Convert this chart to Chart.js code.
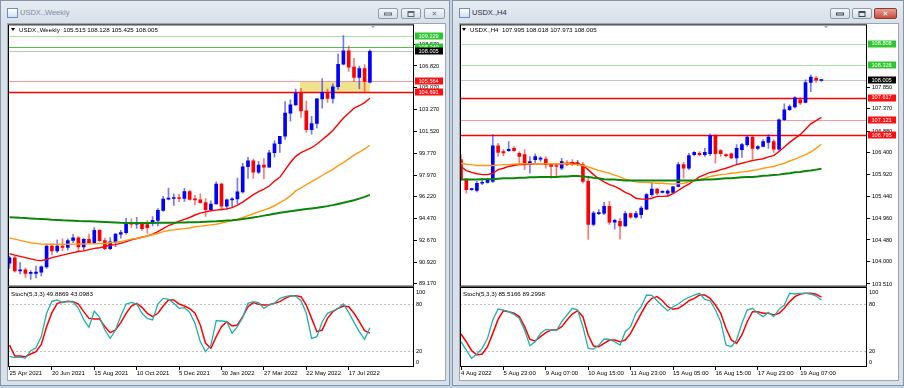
<!DOCTYPE html>
<html>
<head>
<meta charset="utf-8">
<title>USDX</title>
<script src="https://cdn.jsdelivr.net/npm/chart.js@4.4.1/dist/chart.umd.min.js"></script>
<style>
  body { margin:0; width:904px; height:388px; position:relative; overflow:hidden; background:#c3d3e4; font-family:"Liberation Sans", Arial, sans-serif; }
  .win { position:absolute; top:0; height:386px; box-sizing:border-box; border:1px solid #8796a6; background:linear-gradient(#e6ecf2, #d8e0ea 22px, #d8e0ea); }
  .client { position:absolute; top:23px; height:358px; background:#fff; box-sizing:border-box; border:1px solid #9aa6b2; }
  .title { position:absolute; top:8px; font-size:7.5px; }
  .icon { position:absolute; top:8px; width:9px; height:8px; border:1px solid #6f8fb8; background:linear-gradient(#ffffff,#cfe0f4); }
  .btn { position:absolute; top:8px; height:11px; box-sizing:border-box; border:1px solid #8e9cad; border-radius:2px; background:linear-gradient(#f3f6f9,#d7dfe8); }
  .btn i { position:absolute; left:50%; top:50%; transform:translate(-50%,-50%); box-sizing:border-box; }
  .close { background:linear-gradient(#e8a093,#c74d3f); border-color:#8a3a32; }
  canvas { position:absolute; }
  .hdr { position:absolute; font-size:6.2px; white-space:pre; color:#000; line-height:7px; }
  .tri { display:inline-block; width:0; height:0; border-left:2.5px solid transparent; border-right:2.5px solid transparent; border-top:3px solid #000; margin-right:4px; vertical-align:1px; }
</style>
</head>
<body>

<div class="win" style="left:0;width:450px"></div>
<div class="icon" style="left:7px"></div>
<div class="title" style="left:20px;color:#7d8ea3">USDX.,Weekly</div>
<div class="btn" style="left:378px;width:20px"><i style="width:8px;height:3px;border:1px solid #5a6878;top:60%"></i></div>
<div class="btn" style="left:401px;width:20px"><i style="width:7px;height:6px;border:1px solid #5a6878;border-top-width:2px"></i></div>
<div class="btn" style="left:424px;width:21px"><i style="font:bold 7px 'DejaVu Sans';color:#6a7888">✕</i></div>
<div class="client" style="left:7px;width:439px"></div>

<div class="win" style="left:452px;width:452px"></div>
<div class="icon" style="left:459px"></div>
<div class="title" style="left:472px;color:#1f2f45">USDX.,H4</div>
<div class="btn" style="left:830px;width:20px"><i style="width:8px;height:3px;border:1px solid #3c4a5a;top:60%"></i></div>
<div class="btn" style="left:852px;width:20px"><i style="width:7px;height:6px;border:1px solid #3c4a5a;border-top-width:2px"></i></div>
<div class="btn close" style="left:874px;width:23px"><i style="font:bold 7px 'DejaVu Sans';color:#fff">✕</i></div>
<div class="client" style="left:459px;width:440px"></div>

<canvas id="wMain" width="437" height="273" style="left:8px;top:19px"></canvas>
<canvas id="wStoch" width="437" height="100" style="left:8px;top:282px"></canvas>
<canvas id="hMain" width="438" height="273" style="left:460px;top:19px"></canvas>
<canvas id="hStoch" width="438" height="100" style="left:460px;top:282px"></canvas>

<div class="hdr" style="left:11px;top:26px"><span class="tri"></span>USDX.,Weekly  105.515 108.128 105.425 108.005</div>
<div class="hdr" style="left:11px;top:290px">Stoch(5,3,3) 49.8869 43.0983</div>
<div class="hdr" style="left:462px;top:26px"><span class="tri"></span>USDX.,H4  107.995 108.018 107.973 108.005</div>
<div class="hdr" style="left:463px;top:290px">Stoch(5,3,3) 85.5166 89.2998</div>

<script>
// ---------- Weekly (25 Apr 2021 .. 14 Aug 2022) ----------
const W_OPEN  = [90.85,91.28,90.22,90.32,90.02,90.03,90.13,90.55,92.23,91.85,92.23,92.12,92.69,92.90,92.17,92.78,92.52,93.50,92.68,92.03,92.58,93.20,93.33,94.10,94.00,94.12,93.98,94.12,94.32,95.12,96.04,96.09,96.16,96.09,96.64,96.02,95.97,95.75,95.18,95.64,97.26,95.47,95.98,96.05,96.62,98.66,99.13,98.23,98.79,98.62,99.79,100.52,101.13,103.00,103.67,104.63,103.19,101.66,102.16,104.15,104.68,104.19,105.14,106.96,108.05,106.73,105.90,106.60,105.515];
const W_HIGH  = [91.43,91.43,90.91,90.45,90.26,90.62,90.64,92.40,92.41,92.74,92.83,92.83,93.19,93.00,92.87,93.20,93.73,93.60,92.88,92.92,93.27,93.52,94.50,94.45,94.56,94.17,94.30,94.63,95.27,96.27,96.94,96.45,96.44,96.91,96.75,96.35,96.47,96.08,95.89,97.44,97.33,96.06,96.16,97.74,98.93,99.42,99.29,99.10,99.33,99.98,100.76,101.09,103.93,104.07,104.95,105.01,103.98,102.74,104.20,105.79,104.94,105.38,107.79,109.29,108.43,107.43,106.81,106.93,108.128];
const W_LOW   = [90.42,90.12,89.98,89.69,89.53,89.66,89.81,90.42,91.51,91.70,91.86,91.90,92.51,91.78,91.89,92.47,92.48,92.62,91.94,91.95,92.19,92.88,93.20,93.75,93.67,93.50,93.28,93.87,93.87,95.04,95.97,95.52,95.83,95.85,95.96,95.56,95.71,94.63,95.16,95.62,95.14,95.20,95.39,95.65,96.51,97.71,97.71,98.10,97.68,98.60,99.43,99.82,100.87,102.36,103.63,102.66,101.43,101.30,101.81,103.41,103.86,103.81,104.93,106.90,106.38,105.54,104.98,104.64,105.425];
const W_CLOSE = [91.28,90.22,90.32,90.02,90.03,90.13,90.55,92.23,91.85,92.23,92.12,92.69,92.90,92.17,92.78,92.52,93.50,92.68,92.03,92.58,93.20,93.33,94.04,94.00,94.12,93.64,93.72,94.32,95.12,96.04,96.09,96.16,96.09,96.64,96.02,95.97,95.75,95.18,95.64,97.26,95.47,95.98,96.05,96.62,98.66,99.13,98.23,98.79,98.62,99.79,100.52,101.13,103.00,103.67,104.63,103.19,101.66,102.16,104.15,104.68,104.19,105.14,106.96,108.05,106.73,105.90,106.60,105.56,108.005];
const W_MA_FAST = [91.63,91.5,91.4,91.3,91.2,91.1,91.06,91.15,91.3,91.4,91.5,91.6,91.7,91.8,91.85,91.95,92.05,92.1,92.2,92.3,92.35,92.45,92.6,92.75,92.85,92.95,93.05,93.2,93.4,93.65,93.9,94.05,94.25,94.4,94.55,94.75,94.9,95.0,95.1,95.15,95.2,95.25,95.35,95.55,95.8,96.1,96.4,96.65,96.85,97.1,97.5,97.8,98.4,99.0,99.5,99.8,100.0,100.2,100.5,100.85,101.2,101.6,102.1,102.6,103.0,103.4,103.6,103.85,104.2];
const W_MA_MID  = [92.9,92.8,92.7,92.6,92.5,92.45,92.4,92.38,92.38,92.38,92.38,92.38,92.39,92.4,92.4,92.41,92.42,92.43,92.44,92.5,92.55,92.6,92.7,92.8,92.85,92.95,93.05,93.15,93.25,93.4,93.5,93.55,93.6,93.65,93.7,93.8,93.85,93.9,93.95,94.0,94.1,94.2,94.3,94.4,94.55,94.7,94.85,95.0,95.15,95.3,95.5,95.75,96.0,96.3,96.7,96.95,97.2,97.45,97.7,97.95,98.2,98.45,98.75,99.0,99.3,99.6,99.85,100.1,100.4];
const W_MA_SLOW = [94.57,94.55,94.52,94.5,94.47,94.44,94.42,94.4,94.37,94.35,94.32,94.3,94.28,94.26,94.25,94.24,94.22,94.2,94.18,94.16,94.14,94.12,94.11,94.1,94.1,94.1,94.1,94.11,94.12,94.12,94.13,94.13,94.14,94.15,94.16,94.17,94.18,94.2,94.22,94.24,94.27,94.3,94.33,94.37,94.42,94.48,94.55,94.62,94.7,94.78,94.86,94.94,95.0,95.06,95.12,95.18,95.23,95.28,95.33,95.4,95.47,95.55,95.65,95.75,95.85,95.95,96.08,96.22,96.38];
const W_STOCH_K = [13.2,11.5,12.3,11.0,20.4,24.3,38.5,68.5,83.9,85.6,82.2,83.9,83.0,74.9,60.7,50.5,71.4,63.3,47.0,36.3,47.0,65.0,80.4,82.6,80.4,68.5,62.0,59.9,80.4,87.7,86.4,81.3,74.9,75.7,69.7,55.6,32.0,19.2,27.7,59.0,58.6,57.7,42.7,51.3,63.3,81.3,83.5,82.2,74.9,79.2,81.3,87.7,89.9,91.2,90.7,84.7,68.5,36.3,38.5,57.7,68.5,71.5,74.9,80.4,69.7,56.9,44.9,35.0,49.9];
const W_STOCH_D = [27.7,13.6,13.6,12.7,16.2,19.2,28.6,51.3,69.3,81.3,82.6,83.9,83.5,80.4,70.6,62.0,61.2,61.2,51.3,43.6,47.0,56.5,68.5,77.9,81.3,76.2,68.5,64.2,68.5,77.9,85.6,85.6,80.4,77.9,74.5,68.5,53.5,29.9,23.5,38.5,51.3,57.7,52.2,53.5,64.2,77.0,82.2,80.0,79.2,79.6,81.3,83.5,87.7,90.7,91.2,89.9,79.2,62.0,44.9,47.0,62.0,70.6,74.9,77.9,77.0,68.5,57.7,46.2,43.1];
const W_DATE_TICKS = [0, 8, 16, 24, 32, 40, 48, 56, 64];
const W_DATE_LABELS = ['25 Apr 2021','20 Jun 2021','15 Aug 2021','10 Oct 2021','5 Dec 2021','30 Jan 2022','27 Mar 2022','22 May 2022','17 Jul 2022'];
const W_PRICE_TICKS = [108.570, 106.820, 105.070, 103.270, 101.520, 99.770, 97.970, 96.220, 94.470, 92.670, 90.920, 89.170];
const W_LEVELS = [109.229, 108.340, 105.564, 104.691];
const W_BID = 108.005;
const W_ZONE = [54.8, 68, 104.691, 105.564];

// ---------- H4 (4 Aug 2022 .. 19 Aug 2022) ----------
const H_OPEN  = [106.25,105.82,105.59,105.57,105.73,105.75,105.77,106.556,106.43,106.45,106.50,106.39,106.36,106.14,106.25,106.26,106.26,106.14,106.12,106.06,106.17,106.19,106.16,106.14,105.77,104.82,105.06,105.07,105.22,104.87,104.89,104.79,105.06,104.98,105.04,105.16,105.48,105.60,105.53,105.51,105.53,105.66,106.14,106.06,106.36,106.39,106.36,106.38,106.78,106.45,106.36,106.38,106.29,106.47,106.58,106.75,106.50,106.54,106.63,106.65,106.48,107.13,107.35,107.41,107.57,107.51,107.95,108.05,107.995];
const H_HIGH  = [106.36,105.84,105.62,105.77,105.84,105.84,106.80,106.61,106.47,106.65,106.54,106.42,106.47,106.32,106.38,106.32,106.32,106.17,106.15,106.28,106.23,106.25,106.23,106.19,105.84,105.11,105.15,105.31,105.33,104.94,104.96,105.11,105.07,105.11,105.22,105.51,105.75,105.62,105.57,105.59,105.66,106.19,106.19,106.39,106.43,106.43,106.50,106.82,106.80,106.47,106.38,106.40,106.58,106.61,106.78,106.76,106.56,106.69,106.80,106.69,107.15,107.48,107.46,107.64,107.61,108.01,108.12,108.08,108.018];
const H_LOW   = [105.79,105.51,105.57,105.54,105.70,105.73,105.75,106.32,106.34,106.43,106.43,106.17,106.03,105.95,106.17,106.21,106.06,105.84,105.88,106.03,106.12,106.12,106.12,105.73,104.49,104.79,105.04,105.04,104.82,104.72,104.50,104.78,104.96,104.96,104.96,105.15,105.44,105.48,105.51,105.44,105.50,105.65,105.84,106.03,106.33,106.33,106.32,106.34,106.17,106.32,106.31,106.27,106.15,106.30,106.54,106.26,106.47,106.53,106.50,106.41,106.43,107.11,107.33,107.39,107.46,107.50,107.75,107.95,107.973];
const H_CLOSE = [105.82,105.59,105.60,105.73,105.75,105.82,106.556,106.41,106.40,106.48,106.45,106.32,106.14,106.21,106.32,106.27,106.14,106.10,106.10,106.21,106.14,106.14,106.16,105.77,104.82,105.07,105.07,105.22,104.87,104.91,104.79,105.06,104.98,105.06,105.18,105.48,105.60,105.51,105.55,105.56,105.65,106.14,106.06,106.34,106.41,106.36,106.41,106.78,106.38,106.38,106.34,106.29,106.50,106.58,106.75,106.50,106.54,106.65,106.75,106.48,107.13,107.35,107.42,107.61,107.50,107.95,108.07,108.00,108.005];
const H_MA_FAST = [106.10,106.01,105.97,105.94,105.92,105.92,105.95,106.03,106.06,106.10,106.12,106.14,106.14,106.15,106.16,106.16,106.16,106.16,106.16,106.16,106.17,106.17,106.17,106.12,106.03,105.92,105.83,105.76,105.70,105.66,105.60,105.53,105.48,105.40,105.38,105.38,105.40,105.44,105.44,105.45,105.50,105.57,105.65,105.71,105.79,105.87,105.92,105.97,105.99,106.03,106.06,106.10,106.14,106.17,106.20,106.23,106.25,106.27,106.31,106.34,106.43,106.53,106.63,106.72,106.80,106.92,107.04,107.11,107.18];
const H_MA_MID  = [106.17,106.15,106.14,106.12,106.12,106.12,106.12,106.13,106.14,106.14,106.15,106.16,106.16,106.16,106.16,106.16,106.16,106.16,106.16,106.16,106.16,106.15,106.14,106.12,106.09,106.05,106.01,105.98,105.95,105.91,105.87,105.82,105.79,105.76,105.75,105.75,105.74,105.73,105.73,105.72,105.71,105.72,105.73,105.76,105.79,105.81,105.84,105.88,105.90,105.92,105.93,105.95,105.96,105.98,105.99,106.01,106.03,106.06,106.08,106.10,106.14,106.17,106.22,106.26,106.31,106.36,106.42,106.50,106.59];
const H_MA_SLOW = [105.81,105.81,105.81,105.81,105.82,105.82,105.82,105.83,105.84,105.84,105.84,105.85,105.85,105.86,105.86,105.87,105.87,105.87,105.87,105.88,105.88,105.89,105.89,105.88,105.87,105.85,105.84,105.82,105.81,105.81,105.80,105.79,105.79,105.79,105.79,105.79,105.79,105.79,105.79,105.79,105.79,105.79,105.79,105.79,105.79,105.80,105.81,105.81,105.82,105.83,105.84,105.84,105.85,105.86,105.87,105.87,105.88,105.895,105.90,105.91,105.92,105.94,105.95,105.97,105.98,106.00,106.01,106.03,106.05];
const H_STOCH_K = [32.0,21.3,10.6,16.2,23.5,36.3,59.9,74.0,72.7,70.6,67.2,62.0,47.0,26.9,32.0,42.7,47.9,47.0,46.2,57.7,66.3,74.9,72.7,51.3,23.5,22.6,27.7,35.5,35.0,32.0,27.7,44.9,51.3,68.5,77.0,92.0,91.6,84.7,77.9,71.9,77.0,80.4,85.6,89.0,92.0,94.2,86.4,84.7,72.7,57.7,27.7,25.6,34.2,55.6,72.7,74.9,68.5,64.2,69.7,64.2,73.6,79.2,94.2,93.3,94.2,94.2,93.3,90.7,85.5];
const H_STOCH_D = [41.9,32.0,20.5,14.9,16.2,25.6,42.7,60.7,71.9,70.6,68.5,64.2,51.3,35.0,32.9,38.5,43.6,47.0,47.0,51.3,59.9,67.6,71.9,64.2,40.6,26.5,25.6,29.9,34.2,34.2,32.0,34.2,42.7,55.6,68.5,80.4,87.7,89.9,84.7,77.0,73.6,74.9,79.2,84.7,87.7,92.0,92.0,87.7,79.2,68.5,49.2,34.2,29.9,40.6,57.7,70.6,70.6,68.5,68.5,66.3,68.5,74.9,83.5,89.9,93.3,94.2,94.2,92.9,89.3];
const H_DATE_TICKS = [0, 8, 16, 24, 32, 40, 48, 56, 64];
const H_DATE_LABELS = ['4 Aug 2022','5 Aug 23:00','9 Aug 07:00','10 Aug 15:00','11 Aug 23:00','15 Aug 05:00','16 Aug 15:00','17 Aug 23:00','19 Aug 07:00'];
const H_PRICE_TICKS = [107.850, 107.370, 106.880, 106.400, 105.920, 105.440, 104.960, 104.480, 104.000, 103.510];
const H_LEVELS = [108.808, 108.326, 107.617, 107.121, 106.795];
const H_BID = 108.005;

const STOCH_LEVELS = [80, 20];
const STOCH_TICKS = [100, 80, 20, 0];

// ---------- styles ----------
Chart.defaults.font.family = '"Liberation Sans", Arial, sans-serif';
Chart.defaults.color = '#000';
const GREEN_LIGHT = { line:'#a6e3a6', bg:'#2fc72f' };
const GREEN = { line:'#52c052', bg:'#2fc72f' };
const RED_LIGHT = { line:'#f59a9a', bg:'#ff1010' };
const RED = { line:'#ff0000', bg:'#ff1010', w:1.4 };
const BID = { line:'#c4c4c4', bg:'#000000' };

function pts(arr) { return arr.map((v, i) => ({ x: i, y: v })); }

function overlayPlugin(cfg) {
  return {
    id: 'mtOverlay',
    beforeDatasetsDraw(chart) {
      const { ctx, chartArea: a, scales: { x, y } } = chart;
      ctx.save();
      ctx.beginPath(); ctx.rect(a.left, a.top, a.right - a.left, a.bottom - a.top); ctx.clip();
      if (cfg.zone) {
        const [i0, i1, lo, hi] = cfg.zone;
        const x0 = x.getPixelForValue(i0), x1 = x.getPixelForValue(i1);
        const y0 = y.getPixelForValue(hi), y1 = y.getPixelForValue(lo);
        ctx.fillStyle = '#efe38f';
        ctx.fillRect(x0, y0, x1 - x0, y1 - y0);
      }
      cfg.lines.forEach(l => {
        const py = Math.round(y.getPixelForValue(l.v)) + 0.5;
        ctx.strokeStyle = l.st.line; ctx.lineWidth = l.st.w || 1;
        ctx.beginPath(); ctx.moveTo(a.left, py); ctx.lineTo(a.right, py); ctx.stroke();
      });
      ctx.restore();
    },
    afterDraw(chart) {
      const { ctx, chartArea: a, scales: { y } } = chart;
      ctx.save();
      ctx.strokeStyle = '#000'; ctx.lineWidth = 1;
      ctx.strokeRect(a.left + 0.5, a.top + 0.5, a.right - a.left - 1, a.bottom - a.top - 1);
      // chart shift marker
      const mx = a.right - 41;
      ctx.fillStyle = '#a8a8a8';
      ctx.beginPath(); ctx.moveTo(mx - 2.5, a.top + 1); ctx.lineTo(mx + 2.5, a.top + 1); ctx.lineTo(mx, a.top + 4); ctx.fill();
      // price labels
      ctx.font = '5.6px "Liberation Sans", Arial, sans-serif';
      ctx.textBaseline = 'middle';
      cfg.lines.forEach(l => {
        const py = y.getPixelForValue(l.v);
        ctx.fillStyle = l.st.bg;
        ctx.fillRect(a.right + 1, Math.round(py) - 3.5, 28, 7);
        ctx.fillStyle = '#fff';
        ctx.fillText(l.v.toFixed(3), a.right + 4.5, py + 0.3);
      });
      ctx.restore();
    }
  };
}

function stochPlugin() {
  return {
    id: 'mtStoch',
    beforeDatasetsDraw(chart) {
      const { ctx, chartArea: a, scales: { y } } = chart;
      ctx.save();
      ctx.strokeStyle = '#c0c0c0'; ctx.lineWidth = 1; ctx.setLineDash([2, 2]);
      STOCH_LEVELS.forEach(v => {
        const py = Math.round(y.getPixelForValue(v)) + 0.5;
        ctx.beginPath(); ctx.moveTo(a.left, py); ctx.lineTo(a.right, py); ctx.stroke();
      });
      ctx.restore();
    },
    afterDraw(chart) {
      const { ctx, chartArea: a, scales: { y } } = chart;
      ctx.save();
      ctx.strokeStyle = '#000'; ctx.lineWidth = 1;
      ctx.strokeRect(a.left + 0.5, a.top + 0.5, a.right - a.left - 1, a.bottom - a.top - 1);
      ctx.fillStyle = '#000';
      ctx.font = '5.6px "Liberation Sans", Arial, sans-serif';
      ctx.textBaseline = 'middle';
      STOCH_TICKS.forEach(v => {
        const py = Math.min(Math.max(y.getPixelForValue(v), a.top + 5.5), a.bottom - 4.5);
        ctx.fillText(String(v), a.right + 2, py);
      });
      ctx.restore();
    }
  };
}

function mainChart(id, d) {
  const dir = d.open.map((o, i) => Math.sign(d.close[i] - o));
  const bodyCol = dir.map(s => s > 0 ? '#0000ff' : s < 0 ? '#ff0000' : '#404040');
  const wickCol = dir.map(s => s > 0 ? 'rgba(30,30,255,0.6)' : s < 0 ? 'rgba(255,30,30,0.6)' : 'rgba(60,60,60,0.7)');
  const lines = d.levels.map((v, k) => ({ v, st: d.levelStyles[k] }));
  lines.splice(d.bidAt, 0, { v: d.bid, st: BID });
  new Chart(document.getElementById(id), {
    type: 'bar',
    data: {
      datasets: [
        { type: 'line', data: pts(d.maSlow), borderColor: '#0a860a', borderWidth: 2, pointRadius: 0, order: 0 },
        { type: 'line', data: pts(d.maMid), borderColor: '#ff9a10', borderWidth: 1.4, pointRadius: 0, order: 0 },
        { type: 'line', data: pts(d.maFast), borderColor: '#ff0000', borderWidth: 1.4, pointRadius: 0, order: 0 },
        { data: d.open.map((o, i) => ({ x: i, y: [d.low[i], d.high[i]] })), backgroundColor: wickCol, barThickness: 1, grouped: false, order: 2 },
        { data: d.open.map((o, i) => ({ x: i, y: [o, d.close[i]] })), backgroundColor: bodyCol, barThickness: 3, minBarLength: 1, grouped: false, order: 1 }
      ]
    },
    options: {
      responsive: false, animation: false, devicePixelRatio: 1, events: [],
      layout: { padding: { top: 5, bottom: 5, left: 0, right: 0 } },
      plugins: { legend: { display: false }, tooltip: { enabled: false } },
      scales: {
        x: { type: 'linear', display: false, offset: false, min: d.xMin, max: d.xMax },
        y: {
          position: 'right', min: d.yMin, max: d.yMax,
          afterBuildTicks: s => { s.ticks = d.priceTicks.map(v => ({ value: v })); },
          afterFit: s => { s.width = 31; },
          border: { display: false },
          grid: { drawOnChartArea: false, drawTicks: true, tickLength: 3, color: '#000' },
          ticks: { padding: 2, font: { size: 5.6 }, color: '#000', callback: v => v.toFixed(3) }
        }
      }
    },
    plugins: [overlayPlugin({ lines, zone: d.zone })]
  });
}

function stochChart(id, d) {
  new Chart(document.getElementById(id), {
    type: 'line',
    data: {
      datasets: [
        { data: pts(d.k), borderColor: '#22b0a8', borderWidth: 1.3, pointRadius: 0 },
        { data: pts(d.d), borderColor: '#ff0000', borderWidth: 1.5, pointRadius: 0 }
      ]
    },
    options: {
      responsive: false, animation: false, devicePixelRatio: 1, events: [],
      layout: { padding: { top: 5, bottom: 0, left: 0, right: 0 } },
      plugins: { legend: { display: false }, tooltip: { enabled: false } },
      scales: {
        x: {
          type: 'linear', offset: false, min: d.xMin, max: d.xMax,
          afterBuildTicks: s => { s.ticks = d.dateTicks.map(v => ({ value: v })); },
          afterFit: s => { s.height = 15; },
          border: { display: false },
          grid: { drawOnChartArea: false, drawTicks: true, tickLength: 3, color: '#000' },
          ticks: { autoSkip: false, maxRotation: 0, align: 'start', padding: 0, font: { size: 6 }, color: '#000',
                   callback: v => d.dateLabels[d.dateTicks.indexOf(v)] }
        },
        y: {
          position: 'right', min: -0.5, max: 102.3,
          afterFit: s => { s.width = 31; },
          border: { display: false }, grid: { display: false }, ticks: { display: false }
        }
      }
    },
    plugins: [stochPlugin()]
  });
}

mainChart('wMain', {
  open: W_OPEN, high: W_HIGH, low: W_LOW, close: W_CLOSE,
  maFast: W_MA_FAST, maMid: W_MA_MID, maSlow: W_MA_SLOW,
  priceTicks: W_PRICE_TICKS, levels: W_LEVELS, levelStyles: [GREEN_LIGHT, GREEN, RED_LIGHT, RED],
  bid: W_BID, bidAt: 2, zone: W_ZONE,
  xMin: -0.283, xMax: 76.32, yMin: 88.95, yMax: 110.19
});
stochChart('wStoch', { k: W_STOCH_K, d: W_STOCH_D, dateTicks: W_DATE_TICKS, dateLabels: W_DATE_LABELS, xMin: -0.283, xMax: 76.32 });

mainChart('hMain', {
  open: H_OPEN, high: H_HIGH, low: H_LOW, close: H_CLOSE,
  maFast: H_MA_FAST, maMid: H_MA_MID, maSlow: H_MA_SLOW,
  priceTicks: H_PRICE_TICKS, levels: H_LEVELS, levelStyles: [GREEN_LIGHT, GREEN_LIGHT, RED, RED_LIGHT, RED],
  bid: H_BID, bidAt: 2, zone: null,
  xMin: -0.189, xMax: 76.6, yMin: 103.451, yMax: 109.232
});
stochChart('hStoch', { k: H_STOCH_K, d: H_STOCH_D, dateTicks: H_DATE_TICKS, dateLabels: H_DATE_LABELS, xMin: -0.189, xMax: 76.6 });
</script>
</body>
</html>
